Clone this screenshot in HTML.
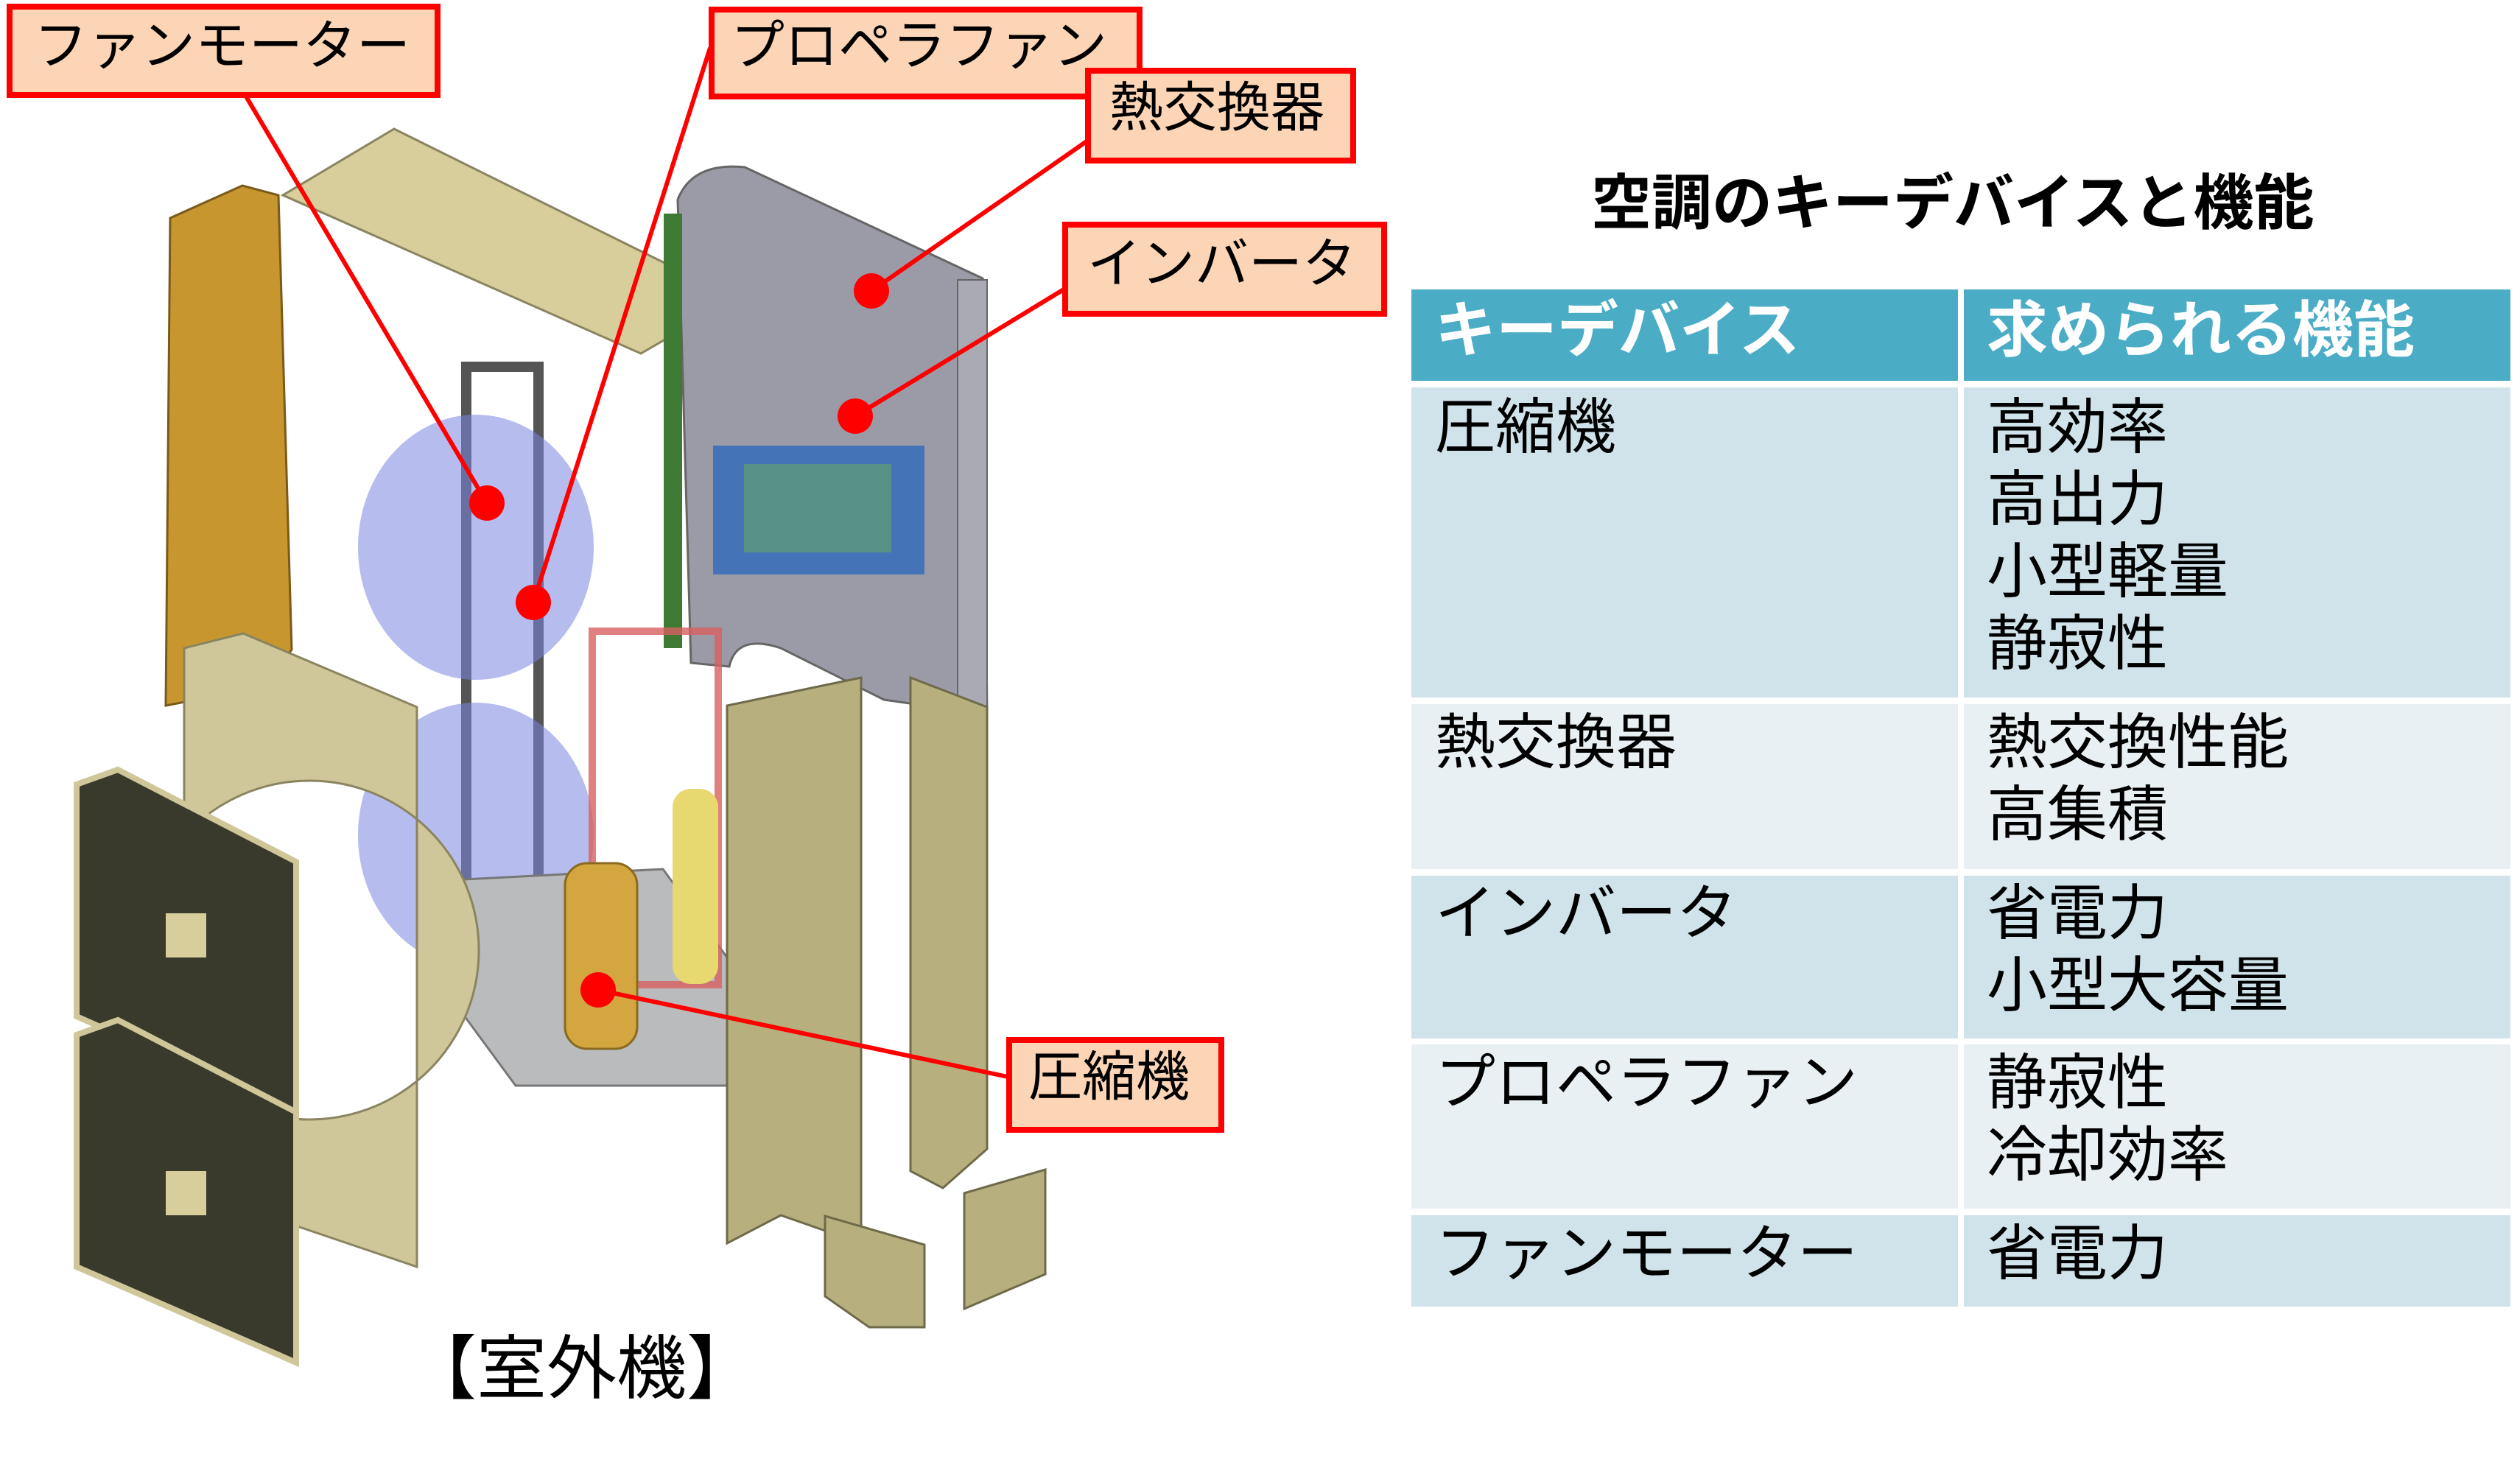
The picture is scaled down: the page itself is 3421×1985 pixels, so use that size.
<!DOCTYPE html>
<html><head><meta charset="utf-8"><style>
html,body{margin:0;padding:0;background:#fff;}
body{width:3421px;height:1985px;position:relative;overflow:hidden;font-family:"Liberation Sans","Noto Sans CJK JP",sans-serif;}
.t{position:absolute;white-space:nowrap;color:#000;}
</style></head><body>
<svg width="3421" height="1985" style="position:absolute;left:0;top:0">
<polygon points="231,296 329,252 378,265 396,882 359,932 225,958" fill="#c8962f" stroke="#7a5a1a" stroke-width="3"/>
<polygon points="384,265 535,175 999,405 870,480" fill="#d8ce9c" stroke="#8a8460" stroke-width="3"/>
<path d="M920,271 Q940,220 1011,227 L1334,378 L1340,970 L1200,950 L1060,880 Q1000,860 990,905 L938,900 Z" fill="#9b9ba8" stroke="#666" stroke-width="3"/>
<rect x="901" y="290" width="25" height="590" fill="#3f7a35"/>
<rect x="1300" y="380" width="40" height="590" fill="#aaaab4" stroke="#666" stroke-width="2"/>
<rect x="968" y="605" width="287" height="175" fill="#3b70b8" opacity="0.9"/>
<rect x="1010" y="630" width="200" height="120" fill="#5e9a7a" opacity="0.8"/>
<rect x="633" y="498" width="98" height="712" fill="none" stroke="#555" stroke-width="14"/>
<ellipse cx="646" cy="743" rx="160" ry="180" fill="#7a86e0" opacity="0.55"/>
<ellipse cx="646" cy="1134" rx="160" ry="180" fill="#7a86e0" opacity="0.55"/>
<polygon points="572,1197 900,1180 987,1300 987,1474 700,1474 572,1300" fill="#b9bbbd" stroke="#777" stroke-width="3"/>
<path d="M250,880 L330,860 L566,960 L566,1720 L330,1640 L250,1610 Z M420,1060 A230,230 0 1 0 420.1,1060 Z" fill="#cfc79a" fill-rule="evenodd" stroke="#8a8460" stroke-width="3"/>
<polygon points="104,1065 160,1045 402,1170 402,1512 104,1380" fill="#3a3a2c" stroke="#cfc79a" stroke-width="8"/>
<rect x="225" y="1240" width="55" height="60" fill="#d8ce9c"/>
<polygon points="104,1405 160,1385 402,1510 402,1850 104,1720" fill="#3a3a2c" stroke="#cfc79a" stroke-width="8"/>
<rect x="225" y="1590" width="55" height="60" fill="#d8ce9c"/>
<rect x="804" y="857" width="171" height="480" fill="none" stroke="#d86060" stroke-width="10" opacity="0.8"/>
<rect x="913" y="1071" width="62" height="265" rx="25" fill="#e8d870"/>
<rect x="767" y="1172" width="98" height="252" rx="30" fill="#d4a640" stroke="#8a6a20" stroke-width="3"/>
<polygon points="987,958 1169,920 1169,1688 1060,1650 987,1688" fill="#b7b07e" stroke="#6e6a4a" stroke-width="3"/>
<polygon points="1236,920 1340,960 1340,1560 1280,1613 1236,1590" fill="#b7b07e" stroke="#6e6a4a" stroke-width="3"/>
<polygon points="1120,1651 1255,1690 1255,1802 1180,1802 1120,1760" fill="#b7b07e" stroke="#6e6a4a" stroke-width="3"/>
<polygon points="1309,1620 1419,1588 1419,1730 1309,1777" fill="#b7b07e" stroke="#6e6a4a" stroke-width="3"/>
<g stroke="#ff0000" stroke-width="6" fill="none">
<line x1="334" y1="131" x2="661" y2="683"/>
<line x1="964" y1="65" x2="724" y2="818"/>
<line x1="1475" y1="192" x2="1183" y2="395"/>
<line x1="1444" y1="393" x2="1161" y2="565"/>
<line x1="1368" y1="1462" x2="812" y2="1344"/>
</g>
<g fill="#ff0000">
<circle cx="661" cy="683" r="24"/><circle cx="724" cy="818" r="24"/><circle cx="1183" cy="395" r="24"/><circle cx="1161" cy="565" r="24"/><circle cx="812" cy="1344" r="24"/>
</g>
<g fill="#fbd5b5" stroke="#ff0000" stroke-width="8">
<rect x="13" y="9" width="581" height="120"/>
<rect x="966" y="13" width="581" height="118"/>
<rect x="1477" y="96" width="360" height="122"/>
<rect x="1446" y="305" width="433" height="121"/>
<rect x="1370" y="1412" width="288" height="122"/>
</g>
<rect x="1916" y="393" width="742" height="124" fill="#4bacc6"/>
<rect x="2666" y="393" width="742" height="124" fill="#4bacc6"/>
<rect x="1916" y="526" width="742" height="421" fill="#d0e3ea"/><rect x="2666" y="526" width="742" height="421" fill="#d0e3ea"/>
<rect x="1916" y="956" width="742" height="224" fill="#e9f0f3"/><rect x="2666" y="956" width="742" height="224" fill="#e9f0f3"/>
<rect x="1916" y="1189" width="742" height="221" fill="#d0e3ea"/><rect x="2666" y="1189" width="742" height="221" fill="#d0e3ea"/>
<rect x="1916" y="1418" width="742" height="223" fill="#e9f0f3"/><rect x="2666" y="1418" width="742" height="223" fill="#e9f0f3"/>
<rect x="1916" y="1650" width="742" height="124" fill="#d0e3ea"/><rect x="2666" y="1650" width="742" height="124" fill="#d0e3ea"/>
</svg>
<div class="t" style="left:46px;top:20px;font-size:73px;line-height:86px">ファンモーター</div>
<div class="t" style="left:992px;top:20px;font-size:73px;line-height:86px">プロペラファン</div>
<div class="t" style="left:1506px;top:104px;font-size:73px;line-height:86px">熱交換器</div>
<div class="t" style="left:1476px;top:316px;font-size:73px;line-height:86px">インバータ</div>
<div class="t" style="left:1396px;top:1420px;font-size:73px;line-height:86px">圧縮機</div>
<div class="t" style="left:552px;top:1802px;font-size:95px;line-height:115px">【室外機】</div>
<div class="t" style="left:2160px;top:229px;font-size:82px;line-height:96px;font-weight:bold">空調のキーデバイスと機能</div>
<div class="t" style="left:1948px;top:401px;font-size:83px;line-height:96px;font-weight:bold;color:#fff">キーデバイス</div>
<div class="t" style="left:2697px;top:401px;font-size:83px;line-height:96px;font-weight:bold;color:#fff">求められる機能</div>
<div class="t" style="left:1948px;top:532px;font-size:82px;line-height:98px">圧縮機</div>
<div class="t" style="left:2697px;top:532px;font-size:82px;line-height:98px">高効率<br>高出力<br>小型軽量<br>静寂性</div>
<div class="t" style="left:1948px;top:960px;font-size:82px;line-height:98px">熱交換器</div>
<div class="t" style="left:2697px;top:960px;font-size:82px;line-height:98px">熱交換性能<br>高集積</div>
<div class="t" style="left:1948px;top:1192px;font-size:82px;line-height:98px">インバータ</div>
<div class="t" style="left:2697px;top:1192px;font-size:82px;line-height:98px">省電力<br>小型大容量</div>
<div class="t" style="left:1948px;top:1422px;font-size:82px;line-height:98px">プロペラファン</div>
<div class="t" style="left:2697px;top:1422px;font-size:82px;line-height:98px">静寂性<br>冷却効率</div>
<div class="t" style="left:1948px;top:1654px;font-size:82px;line-height:98px">ファンモーター</div>
<div class="t" style="left:2697px;top:1654px;font-size:82px;line-height:98px">省電力</div>
</body></html>
